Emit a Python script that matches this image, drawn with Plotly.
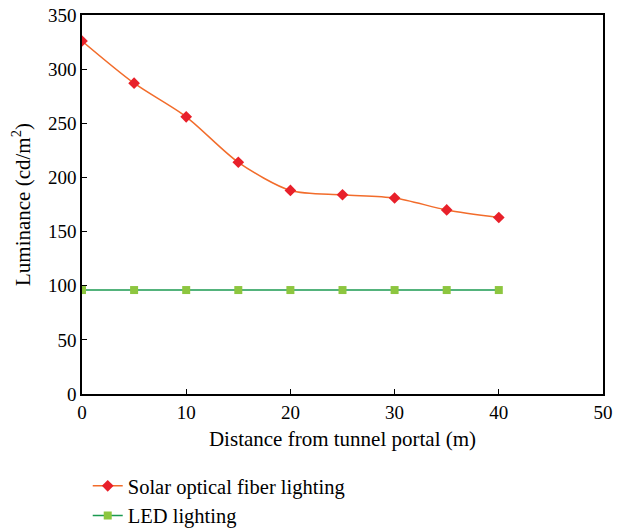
import plotly.graph_objects as go

distance = [0, 5, 10, 15, 20, 25, 30, 35, 40]
solar = [326, 287, 256, 214, 188, 184, 181, 170, 163]
led = [96, 96, 96, 96, 96, 96, 96, 96, 96]

font = "Liberation Serif, Times New Roman, serif"

fig = go.Figure()
fig.add_trace(go.Scatter(
    x=distance, y=solar, mode="lines+markers", name="Solar optical fiber lighting",
    line=dict(color="#f26c2b", width=1.5, shape="spline", smoothing=0.8),
    marker=dict(symbol="diamond", size=9, color="#e8202a"),
))
fig.add_trace(go.Scatter(
    x=distance, y=led, mode="lines+markers", name="LED lighting",
    line=dict(color="#1a9a50", width=1.5),
    marker=dict(symbol="square", size=8, color="#8dc63f"),
))

fig.update_layout(
    width=618, height=570,
    margin=dict(l=82, r=15, t=15, b=176),
    paper_bgcolor="white", plot_bgcolor="white",
    font=dict(family=font, size=19, color="black"),
    showlegend=True,
    legend=dict(x=0.011, y=-0.19, xanchor="left", yanchor="top",
                orientation="v", font=dict(size=20.5), tracegroupgap=0,
                bgcolor="rgba(0,0,0,0)"),
    xaxis=dict(range=[0, 50], tickvals=[0, 10, 20, 30, 40, 50],
               ticks="inside", ticklen=5, tickcolor="black",
               showline=True, linecolor="black", linewidth=1.5, mirror=True,
               showgrid=False, zeroline=False, automargin=False,
               ticklabeloverflow="allow",
               title=dict(text="Distance from tunnel portal (m)", standoff=10,
                          font=dict(size=21)),
               tickfont=dict(size=19)),
    yaxis=dict(range=[0, 350], tickvals=[0, 50, 100, 150, 200, 250, 300, 350],
               ticks="inside", ticklen=5, tickcolor="black",
               showline=True, linecolor="black", linewidth=1.5, mirror=True,
               showgrid=False, zeroline=False, automargin=False,
               ticklabeloverflow="allow",
               title=dict(text="Luminance (cd/m<sup>2</sup>)", standoff=12,
                          font=dict(size=21)),
               tickfont=dict(size=19)),
)

fig.write_html(
    "out.html",
    config={"displayModeBar": False},
    post_script="document.body.style.margin='0';document.body.style.overflow='hidden';",
)
